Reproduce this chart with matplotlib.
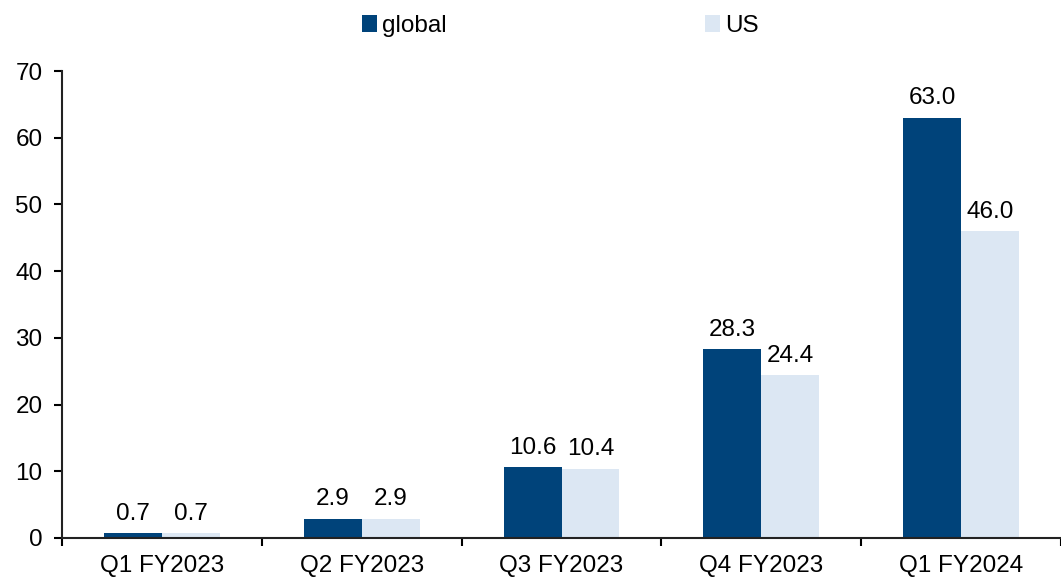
import matplotlib.pyplot as plt
import numpy as np

plt.rcParams['font.family'] = ['Liberation Sans', 'DejaVu Sans']

categories = ["Q1 FY2023", "Q2 FY2023", "Q3 FY2023", "Q4 FY2023", "Q1 FY2024"]
global_vals = [0.7, 2.9, 10.6, 28.3, 63.0]
us_vals = [0.7, 2.9, 10.4, 24.4, 46.0]

C_GLOBAL = "#00437A"
C_US = "#DCE7F3"
FS = 17.5

fig = plt.figure(figsize=(10.61, 5.77), dpi=100)
ax = fig.add_axes([62 / 1061, 1 - 538 / 577, 1 - 62 / 1061, (538 - 71) / 577])

x = np.arange(len(categories))
w = 0.29
b1 = ax.bar(x - w / 2, global_vals, w, color=C_GLOBAL, label="global")
b2 = ax.bar(x + w / 2, us_vals, w, color=C_US, label="US")

ax.bar_label(b1, labels=[f"{v:.1f}" for v in global_vals], padding=6, fontsize=FS)
ax.bar_label(b2, labels=[f"{v:.1f}" for v in us_vals], padding=6, fontsize=FS)

ax.set_xlim(-0.5, len(categories) - 0.5)
ax.set_ylim(0, 70)
ax.set_yticks(range(0, 71, 10))
ax.set_xticks(x)
ax.set_xticklabels(categories)
ax.set_xticks(np.arange(-0.5, len(categories), 1.0), minor=True)
ax.tick_params(axis='x', which='major', length=0, labelsize=FS, pad=12)
ax.tick_params(axis='x', which='minor', length=6, width=1.5, direction='out')
ax.tick_params(axis='y', length=6, width=1.5, labelsize=FS, pad=8)

for s in ["top", "right"]:
    ax.spines[s].set_visible(False)
for s in ["left", "bottom"]:
    ax.spines[s].set_linewidth(1.5)
    ax.spines[s].set_color("#222222")

fig.legend(handles=[b1, b2], loc="center", bbox_to_anchor=(0.528, 0.955), ncol=2,
           frameon=False, fontsize=FS, columnspacing=10.6, handlelength=0.65,
           handleheight=0.65, handletextpad=0.2)

fig.savefig("out.png", dpi=100)
